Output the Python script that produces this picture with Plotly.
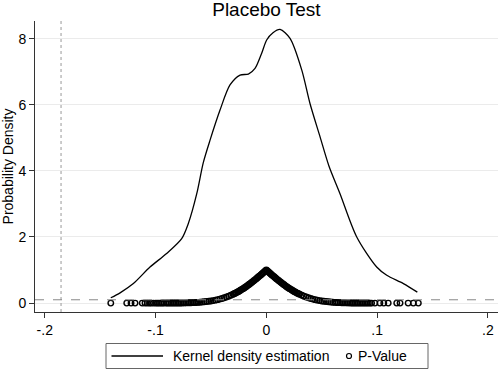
import plotly.graph_objects as go

# Kernel density estimate of placebo coefficients
kde_x = [-0.1404, -0.132, -0.120, -0.105, -0.090, -0.0764, -0.0704, -0.0628, -0.0569,
         -0.0508, -0.0418, -0.0328, -0.0237, -0.0162, -0.0102, -0.0042, 0.0003, 0.006,
         0.0124, 0.0214, 0.032, 0.0394, 0.0485, 0.0565, 0.0665, 0.0816, 0.0996, 0.1087,
         0.1237, 0.1363]
kde_y = [0.16, 0.31, 0.59, 1.09, 1.50, 1.95, 2.41, 3.31, 4.25,
         4.93, 5.84, 6.60, 6.90, 6.93, 7.10, 7.56, 7.96, 8.18,
         8.28, 8.01, 7.05, 6.04, 5.03, 4.15, 3.31, 2.00, 1.09, 0.84,
         0.59, 0.33]

# Placebo coefficient estimates and their p-values
coef_left_tail = [-0.1404, -0.1260, -0.1221, -0.1185, -0.1120, -0.1095, -0.1075, -0.1055,
                  -0.1040, -0.1020, -0.1000, -0.0985, -0.0970, -0.0955, -0.0940, -0.0925,
                  -0.0905, -0.0890, -0.0875, -0.0860, -0.0845, -0.0830, -0.0815, -0.0800,
                  -0.0785, -0.0770, -0.0755, -0.0740, -0.0725, -0.0710, -0.0695, -0.0680,
                  -0.0665, -0.0650, -0.0635, -0.0620]
pval_left_tail = [0.000, 0.000, 0.000, 0.000, 0.000, 0.000, 0.000, 0.000,
                  0.000, 0.000, 0.000, 0.000, 0.000, 0.000, 0.001, 0.001,
                  0.001, 0.001, 0.001, 0.001, 0.002, 0.002, 0.002, 0.003,
                  0.004, 0.004, 0.005, 0.006, 0.007, 0.008, 0.010, 0.011,
                  0.013, 0.015, 0.018, 0.021]

coef_center = [-0.060, -0.058, -0.056, -0.054, -0.052, -0.050, -0.048, -0.046, -0.044,
               -0.042, -0.040, -0.038, -0.036, -0.034, -0.032, -0.030, -0.029, -0.028,
               -0.027, -0.026, -0.025, -0.024, -0.023, -0.022, -0.021, -0.020, -0.019,
               -0.018, -0.017, -0.016, -0.015, -0.014, -0.013, -0.012, -0.011, -0.010,
               -0.009, -0.008, -0.007, -0.006, -0.005, -0.004, -0.003, -0.002, -0.001,
               0.000, 0.001, 0.002, 0.003, 0.004, 0.005, 0.006, 0.007, 0.008, 0.009,
               0.010, 0.011, 0.012, 0.013, 0.014, 0.015, 0.016, 0.017, 0.018, 0.019,
               0.020, 0.021, 0.022, 0.023, 0.024, 0.025, 0.026, 0.027, 0.028, 0.029,
               0.030, 0.032, 0.034, 0.036, 0.038, 0.040, 0.042, 0.044, 0.046, 0.048,
               0.050, 0.052, 0.054, 0.056, 0.058, 0.060]
pval_center = [0.026, 0.032, 0.038, 0.046, 0.054, 0.064, 0.075, 0.088, 0.103,
               0.120, 0.139, 0.159, 0.182, 0.208, 0.236, 0.267, 0.283, 0.300,
               0.317, 0.336, 0.354, 0.374, 0.394, 0.415, 0.437, 0.459, 0.482,
               0.505, 0.529, 0.553, 0.578, 0.604, 0.630, 0.657, 0.684, 0.711,
               0.739, 0.767, 0.795, 0.824, 0.853, 0.882, 0.912, 0.941, 0.970,
               1.000, 0.970, 0.941, 0.912, 0.882, 0.853, 0.824, 0.795, 0.767, 0.739,
               0.711, 0.684, 0.657, 0.630, 0.604, 0.578, 0.553, 0.529, 0.505, 0.482,
               0.459, 0.437, 0.415, 0.394, 0.374, 0.354, 0.336, 0.317, 0.300, 0.283,
               0.267, 0.236, 0.208, 0.182, 0.159, 0.139, 0.120, 0.103, 0.088, 0.075,
               0.064, 0.054, 0.046, 0.038, 0.032, 0.026]

coef_right_tail = [0.0620, 0.0635, 0.0650, 0.0665, 0.0680, 0.0695, 0.0710, 0.0725, 0.0740,
                   0.0755, 0.0770, 0.0785, 0.0800, 0.0815, 0.0830, 0.0845, 0.0860, 0.0875,
                   0.0890, 0.0905, 0.0920, 0.0936, 0.0950, 0.0980, 0.1025, 0.1060, 0.1100,
                   0.1177, 0.1207, 0.1280, 0.1327, 0.1372]
pval_right_tail = [0.021, 0.018, 0.015, 0.013, 0.011, 0.010, 0.008, 0.007, 0.006,
                   0.005, 0.004, 0.004, 0.003, 0.002, 0.002, 0.002, 0.001, 0.001,
                   0.001, 0.001, 0.001, 0.000, 0.000, 0.000, 0.000, 0.000, 0.000,
                   0.000, 0.000, 0.000, 0.000, 0.000]

coef = coef_left_tail + coef_center + coef_right_tail
pval = pval_left_tail + pval_center + pval_right_tail

true_effect = -0.1853
p_threshold = 0.1

x_tickvals = [-0.2, -0.1, 0, 0.1, 0.2]
x_ticktext = ['-.2', '-.1', '0', '.1', '.2']
y_tickvals = [0, 2, 4, 6, 8]

legend_labels = ['Kernel density estimation', 'P-Value']

FONT = "Liberation Sans, Arial, sans-serif"

# plot-area geometry in pixels (for the hand-placed legend box)
W, H = 498, 370
ML, MR, MT, MB = 35, 0, 21, 58
PW, PH = W - ML - MR, H - MT - MB


def px_x(p):
    return (p - ML) / PW


def px_y(p):
    return (H - MB - p) / PH


fig = go.Figure()
fig.add_trace(go.Scatter(
    x=kde_x, y=kde_y, mode='lines', name=legend_labels[0], showlegend=False,
    line=dict(color='black', width=1.3, shape='spline', smoothing=0.8)))
fig.add_trace(go.Scatter(
    x=coef, y=pval, mode='markers', name=legend_labels[1], showlegend=False,
    marker=dict(symbol='circle-open', size=5.5, color='black', line=dict(width=1.4))))

fig.add_shape(type='line', xref='x', yref='paper', x0=true_effect, x1=true_effect,
              y0=0, y1=1, line=dict(color='#999999', width=1, dash='dot'))
fig.add_shape(type='line', xref='paper', yref='y', x0=0, x1=1,
              y0=p_threshold, y1=p_threshold, line=dict(color='#888888', width=1, dash='dash'))

# legend box (below plot, centred)
fig.add_shape(type='rect', xref='paper', yref='paper',
              x0=px_x(106), x1=px_x(428), y0=px_y(368.5), y1=px_y(343.5),
              line=dict(color='#666666', width=1), fillcolor='white', layer='above')
fig.add_shape(type='line', xref='paper', yref='paper',
              x0=px_x(111.5), x1=px_x(163), y0=px_y(356), y1=px_y(356),
              line=dict(color='black', width=1.3), layer='above')
fig.add_shape(type='circle', xref='paper', yref='paper',
              x0=px_x(346.5), x1=px_x(351.5), y0=px_y(358.5), y1=px_y(353.5),
              line=dict(color='black', width=1.2), layer='above')
fig.add_annotation(xref='paper', yref='paper', x=px_x(171), y=px_y(356),
                   xanchor='left', yanchor='middle', showarrow=False,
                   text=legend_labels[0], font=dict(size=14, family=FONT, color='black'))
fig.add_annotation(xref='paper', yref='paper', x=px_x(356), y=px_y(356),
                   xanchor='left', yanchor='middle', showarrow=False,
                   text=legend_labels[1], font=dict(size=14, family=FONT, color='black'))

fig.update_layout(
    width=W, height=H,
    margin=dict(l=ML, r=MR, t=MT, b=MB),
    paper_bgcolor='white', plot_bgcolor='white',
    font=dict(family=FONT, color='black', size=13),
    title=dict(text='Placebo Test', x=0.535, xanchor='center', y=1 - 9.5 / H,
               yanchor='middle', yref='container',
               font=dict(size=19, family=FONT, color='black')),
    showlegend=False,
    xaxis=dict(range=[-0.2088, 0.2091], tickvals=x_tickvals, ticktext=x_ticktext,
               showgrid=False, zeroline=False, showline=True, linecolor='#333333',
               linewidth=1, ticks='outside', ticklen=5, tickcolor='#333333',
               tickfont=dict(size=14), automargin=False),
    yaxis=dict(range=[-0.27, 8.536], tickvals=y_tickvals, showgrid=True,
               gridcolor='#ebebeb', gridwidth=1, zeroline=False, showline=True,
               linecolor='#333333', linewidth=1, ticks='outside', ticklen=5,
               tickcolor='#333333', tickfont=dict(size=14), automargin=False,
               title=dict(text='Probability Density', font=dict(size=14), standoff=5)),
)

fig.write_html('out.html', config={'displayModeBar': False},
               post_script="document.body.style.margin='0';document.body.style.padding='0';"
                           "document.body.style.overflow='hidden';")
